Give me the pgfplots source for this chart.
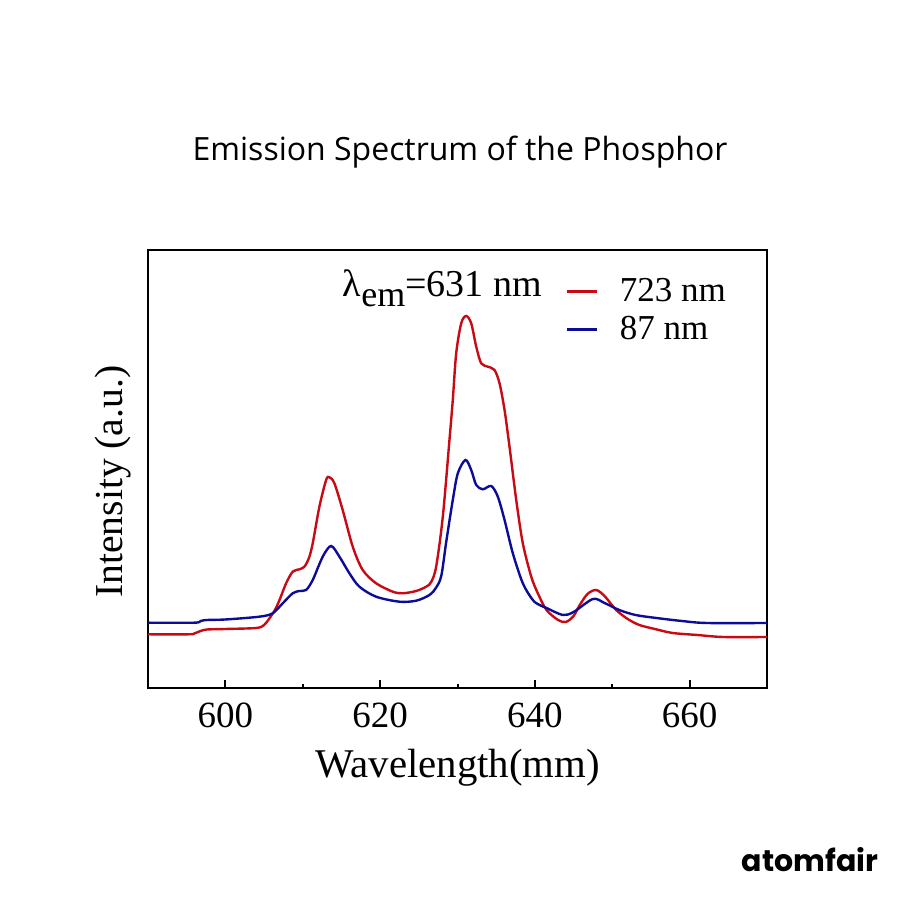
\documentclass[border=0pt]{standalone}
\usepackage{pgfplots}
\usepackage{pgfplotstable}
\pgfplotsset{compat=1.18}
\usepackage{fontspec}
\setmainfont{Liberation Serif}
\newfontfamily\titlefont{Open Sans}
\newfontfamily\brandfont{Poppins}

\definecolor{specred}{HTML}{C80A14}
\definecolor{specblue}{HTML}{0C0C96}

% Emission intensity (a.u.) versus wavelength, excitation at 723 nm
\pgfplotstableread{
wl  I
590    53.7
595.3  53.7
596.0  54.6
596.8  57
597.6  58.5
600    59
604    60
605.0  63
605.7  69.7
606.4  78
607.0  88
607.85 104.7
608.7  116.3
609.57 118.7
610.21 121.3
610.8  130
611.29 144.7
612.15 181.3
613.02 208
613.44 210.7
614.09 204.7
615.16 178
616.46 141.3
617.75 118
619.48 104.7
621.63 96.3
622.92 94.7
624.66 97
625.95 101.3
626.6  106
627.24 121.3
628.1  171.3
628.96 248
629.39 288
629.83 334.7
630.48 364.7
631.12 372
631.77 364.7
632.42 341.3
633.06 324.7
633.92 321.3
634.78 318
635.43 304.7
636.08 278
636.72 241.3
637.59 188
638.44 144.7
639.53 111.3
640.38 94.7
641.5  78
643    68
644    66
645    72
645.8  83
646.8  94
647.9  98
649    92
650.5  78
652    69
653.5  63
655.5  59
657.8  55
661    53
664.3  51
670    51
}\redspec

% Emission intensity (a.u.) versus wavelength, excitation at 87 nm
\pgfplotstableread{
wl  I
590    65.3
596.0  65.3
596.8  67
597.6  68
600    68.5
604.39 71.3
606.11 74.7
607.41 84.7
608.7  94.7
609.57 97
610.43 98
611.29 108
612.58 131.3
613.66 142
614.74 131.3
616.03 114.7
617.32 101.3
619.48 91.3
622.49 86.3
624.66 87.3
626.38 93
627.2  100
627.9  112
628.54 146
629.39 188
630.04 214.7
631.03 228
631.77 218
632.42 203
633.27 198.7
634.36 202
635.21 191.3
636.08 168
637.15 134.7
638.44 104.7
639.73 88
640.6  83
641.5  80
643.6  73
645    76
647.5  89
649    85
650.9  78
653    73
655.7  70
659    67
662.2  65
670    65
}\bluespec

\begin{document}
\begin{tikzpicture}[x=1bp,y=1bp]
\path[use as bounding box] (0,0) rectangle (450,450);
\node[font=\titlefont\fontsize{16bp}{19bp}\selectfont] at (230,374) {Emission Spectrum of the Phosphor};
\node[font=\brandfont\bfseries\fontsize{15bp}{18bp}\selectfont] at (405,20) {atomfair};
\begin{axis}[
  at={(74bp,106bp)}, anchor=south west,
  scale only axis, width=309.5bp, height=219bp,
  xmin=590, xmax=670, ymin=0, ymax=438,
  xtick={600,620,640,660}, minor xtick={610,630,650},
  ytick=\empty,
  xtick pos=bottom, tick align=inside,
  major tick length=4bp, minor tick length=2bp,
  every tick/.style={black, line width=1bp},
  axis line style={line width=1.3bp},
  /pgf/number format/assume math mode=true,
  /pgf/number format/set thousands separator={},
  xticklabel style={font=\fontsize{18.5bp}{22bp}\selectfont, yshift=-4bp},
  xlabel={Wavelength(mm)},
  ylabel={Intensity (a.u.)},
  xlabel style={font=\fontsize{20.4bp}{24bp}\selectfont, at={(axis description cs:0.5,-0.183)}, anchor=center},
  ylabel style={font=\fontsize{19.8bp}{24bp}\selectfont, at={(axis description cs:-0.0565,0.471)}, anchor=center, rotate=0},
  legend style={at={(axis description cs:0.6735,0.945)}, anchor=north west, draw=none, fill=none,
    font=\fontsize{17.5bp}{20bp}\selectfont, inner sep=0pt, row sep=2bp, column sep=9bp},
  legend cell align=left,
  legend image code/.code={\draw[#1, line width=1.3bp] (0bp,0bp) -- (15bp,0bp);},
]
\addplot[specred, line width=1.2bp, smooth, tension=0.5] table[x=wl,y=I] {\redspec};
\addplot[specblue, line width=1.2bp, smooth, tension=0.5] table[x=wl,y=I] {\bluespec};
\legend{723 nm, 87 nm}
\node[anchor=base west, font=\fontsize{19bp}{22bp}\selectfont, inner sep=0pt] at (axis cs:615.13,391)
  {λ\raisebox{-5bp}{\fontsize{18bp}{20bp}\selectfont em}=631 nm};
\end{axis}
\end{tikzpicture}
\end{document}
